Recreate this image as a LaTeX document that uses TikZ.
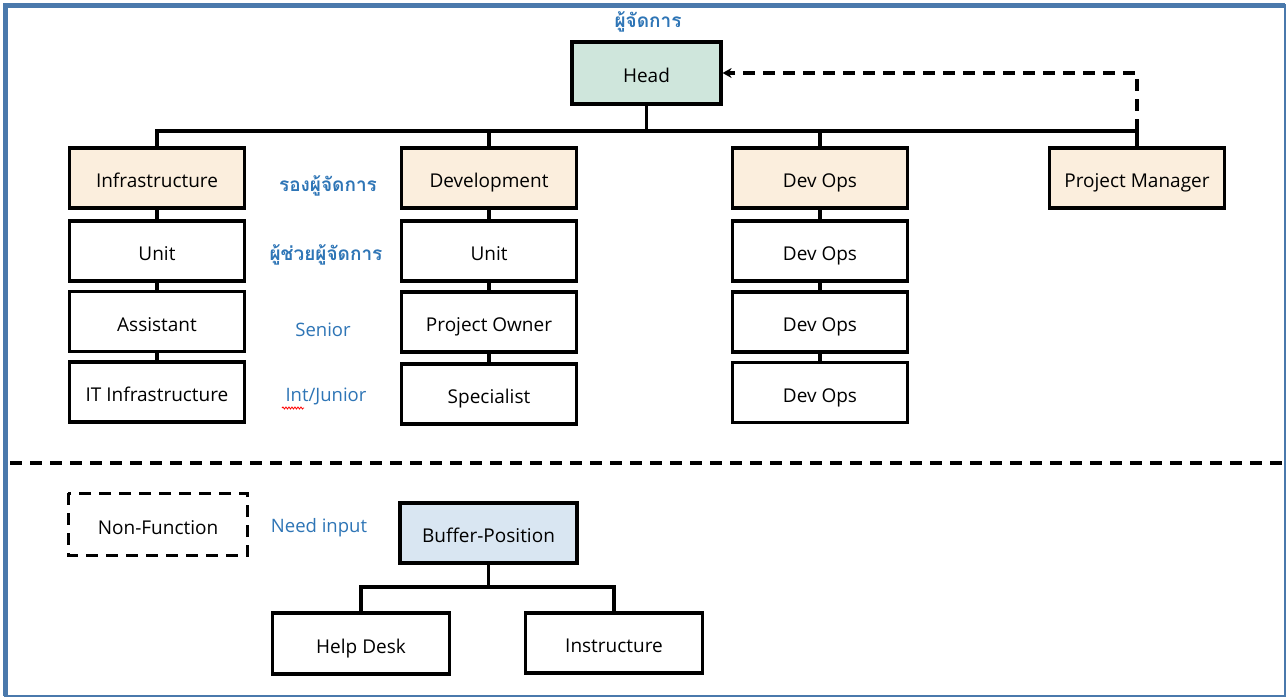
\documentclass[tikz,border=0pt]{standalone}
\usepackage{fontspec}
\setmainfont{Open Sans}
\newfontfamily\thaifont[Script=Thai]{Loma}
\usetikzlibrary{arrows.meta,decorations.pathmorphing}
\definecolor{frameblue}{HTML}{4A79AC}
\definecolor{lblblue}{HTML}{2E75B6}
\definecolor{headfill}{HTML}{CFE6DC}
\definecolor{peach}{HTML}{FBEEDD}
\definecolor{bufblue}{HTML}{D9E6F2}
\begin{document}
\begin{tikzpicture}[x=1pt,y=-1pt,
  box/.style={draw=black,line width=3.2pt,minimum width=175pt,minimum height=60pt,inner sep=0pt,
    text height=19pt,text depth=0pt,font=\fontsize{19}{21}\selectfont},
  topbox/.style={box,fill=peach},
  conn/.style={line width=3.2pt,draw=black},
  dashline/.style={line width=3.2pt,draw=black,dash pattern=on 12pt off 8pt},
  lbl/.style={text=lblblue,font=\fontsize{18.5}{20}\selectfont},
  thailbl/.style={text=lblblue,font=\thaifont\bfseries\fontsize{19}{21}\selectfont}]
\useasboundingbox (0,0) rectangle (1287,698);
\fill[white] (0,0) rectangle (1287,698);
\draw[frameblue,line width=2pt] (5,5) rectangle (1285,696);
\draw[frameblue,line width=4.5pt] (5.5,696) -- (5.5,5.5) -- (1285,5.5);

% top
\node[box,fill=headfill,minimum width=149pt,minimum height=62pt] (head) at (646.5,73) {Head};
\node[thailbl] (lmgr) at (648,22) {ผู้จัดการ};

% row 1
\node[topbox] (infra) at (157,178) {Infrastructure};
\node[topbox] (dev) at (489,178) {Development};
\node[topbox] (ops) at (820,178) {Dev Ops};
\node[topbox] (pm) at (1137,178) {Project Manager};

% column 1
\node[box] (iu) at (157,251) {Unit};
\node[box] (ia) at (157,321.5) {Assistant};
\node[box] (iit) at (157,392) {IT Infrastructure};
% column 2
\node[box] (du) at (489,251) {Unit};
\node[box] (dpo) at (489,322) {Project Owner};
\node[box] (dsp) at (489,394) {Specialist};
% column 3
\node[box] (o1) at (820,251) {Dev Ops};
\node[box] (o2) at (820,322) {Dev Ops};
\node[box] (o3) at (820,392.5) {Dev Ops};

% level labels
\node[thailbl] (l1) at (328,186) {รองผู้จัดการ};
\node[thailbl] (l2) at (326,255) {ผู้ช่วยผู้จัดการ};
\node[lbl] (l3) at (323,330) {Senior};
\node[lbl] (l4) at (326,396) {Int/Junior};
\coordinate (sqA) at (282,408);
\coordinate (sqB) at (304,408);
\draw[red,line width=0.8pt,decorate,decoration={snake,amplitude=1pt,segment length=3pt}] (sqA) -- (sqB);

% connectors top
\coordinate (busy) at (0,131);
\draw[conn] (head.south) -- (head.south |- busy);
\draw[conn] (infra.north) |- (pm.north |- busy) -- (pm.north);
\draw[conn] (dev.north) -- (dev.north |- busy);
\draw[conn] (ops.north) -- (ops.north |- busy);
\draw[dashline,-{Stealth[length=9pt,width=10pt]}] (pm.north |- busy) -- (pm.north |- head.east) -- (head.east);

\draw[conn] (infra.south) -- (iu.north);
\draw[conn] (iu.south) -- (ia.north);
\draw[conn] (ia.south) -- (iit.north);
\draw[conn] (dev.south) -- (du.north);
\draw[conn] (du.south) -- (dpo.north);
\draw[conn] (dpo.south) -- (dsp.north);
\draw[conn] (ops.south) -- (o1.north);
\draw[conn] (o1.south) -- (o2.north);
\draw[conn] (o2.south) -- (o3.north);

% divider
\coordinate (dL) at (10,463);
\coordinate (dR) at (1284,463);
\draw[dashline] (dL) -- (dR);

% bottom
\node[box,draw=none,minimum width=176pt,minimum height=59pt] (nf) at (158,524.5) {Non-Function};
\draw[dashline] (nf.north west) rectangle (nf.south east);
\node[lbl] (need) at (319,528) {Need input};
\node[box,fill=bufblue,minimum width=177pt] (buf) at (488.5,533) {Buffer-Position};
\node[box,minimum width=177pt,minimum height=61pt] (help) at (361,643.5) {Help Desk};
\node[box,minimum width=177pt] (instr) at (614,643) {Instructure};
\coordinate (bb) at (0,587);
\draw[conn] (buf.south) -- (buf.south |- bb);
\draw[conn] (help.north) |- (instr.north |- bb) -- (instr.north);
\end{tikzpicture}
\end{document}
